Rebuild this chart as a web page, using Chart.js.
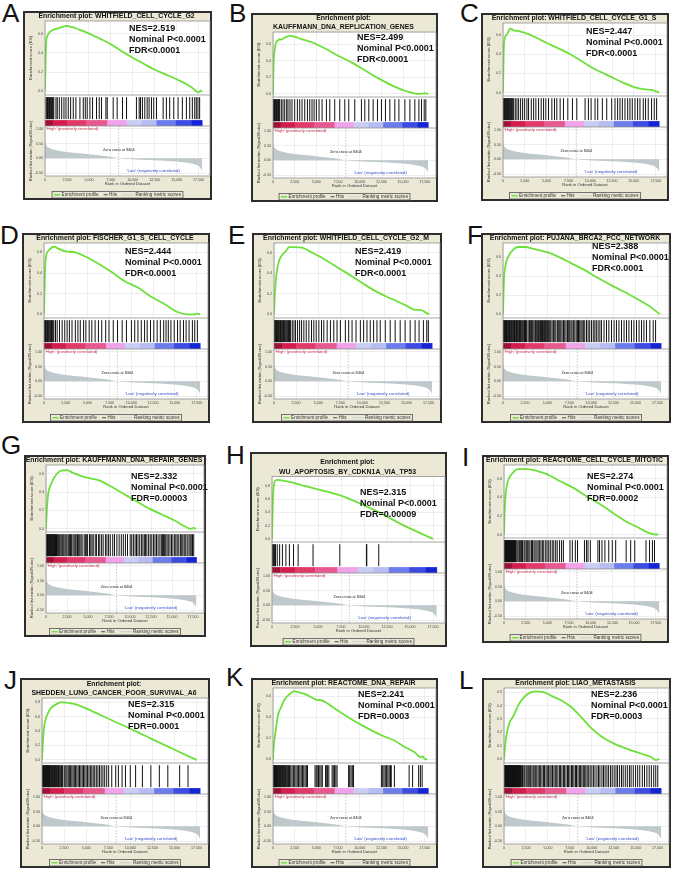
<!DOCTYPE html>
<html>
<head>
<meta charset="utf-8">
<title>GSEA enrichment plots</title>
<script src="https://cdn.jsdelivr.net/npm/chart.js@4.4.1/dist/chart.umd.min.js"></script>
<style>
  html, body { margin: 0; padding: 0; background: #fff; }
  body { position: relative; width: 674px; height: 874px; overflow: hidden; font-family: "Liberation Sans", Arial, sans-serif; }
  .letter { position: absolute; font-size: 26px; line-height: 26px; color: #111; }
  .frame { position: absolute; box-sizing: border-box; border: 2px solid #2d2d2d; background: #ebe9d6; }
  .frame canvas { position: absolute; left: -2px; top: -2px; }
</style>
</head>
<body>
<script>
const FONT = '"Liberation Sans", Arial, sans-serif';

// ── Values ──────────────────────────────────────────────────────────

const PANEL_LETTERS = ["A", "B", "C", "D", "E", "F", "G", "H", "I", "J", "K", "L"];
const PANEL_TITLES = [
  ["Enrichment plot: WHITFIELD_CELL_CYCLE_G2"],
  ["Enrichment plot:", "KAUFFMANN_DNA_REPLICATION_GENES"],
  ["Enrichment plot: WHITFIELD_CELL_CYCLE_G1_S"],
  ["Enrichment plot: FISCHER_G1_S_CELL_CYCLE"],
  ["Enrichment plot: WHITFIELD_CELL_CYCLE_G2_M"],
  ["Enrichment plot: PUJANA_BRCA2_PCC_NETWORK"],
  ["Enrichment plot: KAUFFMANN_DNA_REPAIR_GENES"],
  ["Enrichment plot:", "WU_APOPTOSIS_BY_CDKN1A_VIA_TP53"],
  ["Enrichment plot: REACTOME_CELL_CYCLE_MITOTIC"],
  ["Enrichment plot:", "SHEDDEN_LUNG_CANCER_POOR_SURVIVAL_A6"],
  ["Enrichment plot: REACTOME_DNA_REPAIR"],
  ["Enrichment plot: LIAO_METASTASIS"]
];
const NES = ["2.519", "2.499", "2.447", "2.444", "2.419", "2.388", "2.332", "2.315", "2.274", "2.315", "2.241", "2.236"];
const NOM_P = ["<0.0001", "<0.0001", "<0.0001", "<0.0001", "<0.0001", "<0.0001", "<0.0001", "<0.0001", "<0.0001", "<0.0001", "<0.0001", "<0.0001"];
const FDR = ["<0.0001", "<0.0001", "<0.0001", "<0.0001", "<0.0001", "<0.0001", "=0.00003", "=0.00009", "=0.0002", "=0.0001", "=0.0003", "=0.0003"];

// axis ticks
const X_TICKS = [0, 2500, 5000, 7500, 10000, 12500, 15000, 17500];
const METRIC_TICKS = [-0.5, -0.25, 0, 0.25, 0.5, 0.75, 1.0];
// upper limit of each enrichment-score axis
const ES_AXIS_MAX = [0.73, 0.745, 0.727, 0.69, 0.695, 0.747, 0.695, 0.94, 0.745, 0.857, 0.68, 0.53];

// running enrichment score: [rank, ES]
const ES_A = [[0,0],[50,0.25],[130,0.5],[250,0.57],[600,0.62],[1100,0.645],[1700,0.66],[2200,0.675],[2500,0.68],[2900,0.67],[3500,0.655],[4200,0.63],[4900,0.605],[5600,0.575],[6300,0.545],[7500,0.49],[8700,0.42],[10000,0.35],[11200,0.29],[12500,0.225],[13800,0.175],[15000,0.127],[16100,0.077],[16800,0.035],[17250,0.0],[17450,-0.01],[17750,0.008],[17900,0.0]];
const ES_B = [[0,0],[60,0.34],[190,0.53],[380,0.625],[600,0.645],[770,0.66],[1000,0.655],[1350,0.68],[1920,0.7],[2500,0.69],[3270,0.66],[4420,0.625],[5960,0.55],[7500,0.46],[9040,0.38],[10580,0.285],[12120,0.19],[13650,0.106],[15190,0.038],[16200,0.01],[16730,0.0],[17300,0.004],[17500,0.008],[17900,0.0]];
const ES_C = [[0,0],[80,0.43],[190,0.56],[460,0.61],[840,0.667],[1220,0.65],[1790,0.643],[2930,0.61],[4460,0.543],[5980,0.477],[7500,0.41],[9030,0.327],[10550,0.243],[12080,0.177],[13600,0.11],[15130,0.053],[16270,0.033],[17030,0.027],[17550,0.012],[17900,0.0]];
const ES_D = [[0,0],[110,0.41],[260,0.57],[570,0.62],[950,0.65],[1250,0.655],[1510,0.64],[2460,0.61],[3590,0.6],[4730,0.56],[6240,0.49],[7750,0.41],[9260,0.32],[10770,0.26],[12290,0.17],[13800,0.1],[15310,0.023],[16440,0.0],[17200,0.0],[17580,0.007],[17900,0.0]];
const ES_E = [[0,0],[110,0.22],[260,0.38],[570,0.52],[940,0.58],[1390,0.62],[1700,0.655],[2450,0.655],[3200,0.65],[4330,0.6],[5840,0.53],[7340,0.45],[8850,0.37],[10350,0.285],[11860,0.21],[13370,0.15],[14870,0.09],[16000,0.045],[16570,0.045],[17140,0.02],[17590,0.0]];
const ES_F = [[0,0],[110,0.36],[260,0.5],[570,0.6],[1130,0.675],[1700,0.705],[2460,0.705],[3590,0.683],[5100,0.648],[6240,0.605],[7750,0.534],[9260,0.463],[10770,0.38],[12660,0.285],[14180,0.214],[15690,0.135],[16820,0.071],[17770,0.0]];
const ES_G = [[0,0],[110,0.22],[260,0.38],[570,0.48],[1130,0.58],[1700,0.63],[2460,0.64],[3210,0.61],[4730,0.56],[6240,0.53],[7750,0.46],[9260,0.38],[10770,0.3],[12290,0.22],[13800,0.156],[15310,0.09],[16440,0.03],[17200,0.0],[17580,0.01],[17850,0.0]];
const ES_H = [[0,0],[100,0.6],[300,0.87],[570,0.89],[1500,0.87],[3000,0.82],[4340,0.77],[7560,0.65],[11340,0.42],[14360,0.2],[17500,0.0]];
const ES_I = [[0,0],[75,0.25],[190,0.43],[450,0.57],[1020,0.66],[1580,0.7],[2710,0.7],[3850,0.68],[4980,0.645],[6490,0.57],[8000,0.5],[9500,0.41],[11010,0.33],[12520,0.233],[14030,0.143],[15540,0.072],[16670,0.018],[17420,0.0],[17800,0.0]];
const ES_J = [[0,0],[150,0.35],[340,0.53],[650,0.64],[1030,0.72],[1600,0.77],[2180,0.8],[2950,0.79],[4100,0.76],[5240,0.7],[7540,0.57],[10220,0.42],[12520,0.285],[15200,0.13],[17500,0.0]];
const ES_K = [[0,0],[80,0.12],[270,0.25],[570,0.42],[950,0.5],[1330,0.57],[1900,0.62],[2460,0.65],[2840,0.64],[3790,0.62],[4920,0.57],[5690,0.56],[7200,0.48],[8700,0.4],[10600,0.31],[12500,0.23],[14000,0.18],[15150,0.12],[16300,0.07],[17050,0.02],[17250,0.03],[17500,0.005],[17800,0.0]];
const ES_L = [[0,0],[110,0.09],[260,0.17],[560,0.26],[1130,0.33],[1700,0.41],[2260,0.46],[2820,0.49],[3580,0.505],[4520,0.5],[5460,0.47],[6590,0.435],[7720,0.385],[8850,0.31],[9980,0.23],[11100,0.17],[12600,0.115],[14100,0.077],[15600,0.044],[16760,0.018],[17300,-0.005],[17700,0.005]];

// ranks of the gene-set members (hits)
const HITS_A = [110,200,280,360,440,520,600,680,760,840,920,1000,1250,1400,1630,1900,2160,2390,2650,2920,3220,3520,3980,4360,4590,4810,5120,5420,5870,6180,6440,6940,7090,7770,8220,8830,9290,10420,10730,10880,11100,11370,11640,11860,12130,12390,12700,13460,13830,14210,14670,15160,15650,16110,16490,16790,17060,17240,17430,17620];
const HITS_B = [60,115,180,250,320,400,480,560,640,700,770,960,1150,1350,1580,1730,1960,2190,2500,2810,3080,3350,3660,3970,4240,4500,4740,5000,5310,5660,6160,6550,7120,7700,8280,8740,9430,10200,10590,11050,11550,12050,12510,12970,13480,14050,14520,15210,15790,16360,16830,17130,17440,17630];
const HITS_C = [40,100,160,230,300,370,440,510,580,650,720,800,880,960,1040,1120,1220,1410,1600,1790,2020,2250,2480,2740,2930,3240,3510,3770,4080,4380,4650,4910,5220,5600,5900,6170,6550,6930,7430,7960,8460,9410,9790,10100,10550,10860,11390,11890,12460,12840,13140,13410,13680,13980,14290,14550,14820,15130,15430,15700,16080,16340,16650,17030,17340,17610];
const HITS_D = [40,100,170,250,330,410,500,590,680,770,860,950,1040,1130,1320,1510,1780,2080,2380,2650,2910,3210,3590,3890,4160,4540,4800,5180,5480,5860,6240,6620,7070,7450,7940,8430,8960,9450,10020,10400,10770,11150,11530,11830,12210,12590,12970,13340,13720,13990,14250,14550,14930,15310,15610,15990,16290,16630,17010,17280,17580];
const HITS_E = [40,90,150,210,280,350,420,500,580,660,740,820,900,990,1080,1170,1260,1350,1450,1550,1650,1760,1880,2070,2260,2440,2670,2900,3120,3380,3650,3950,4250,4510,4780,5080,5380,5640,6020,6390,6770,7140,7520,8080,8460,8840,9290,9780,10150,10530,10900,11280,11660,12030,12600,13160,13720,14290,14850,15420,15980,16430,16920,17300,17480];
const HITS_F = [30,85,150,205,270,325,400,465,540,605,680,745,820,895,980,1050,1140,1215,1300,1375,1460,1535,1620,1705,1790,1875,1970,2055,2150,2240,2350,2440,2550,2650,2830,2960,3020,3140,3210,3310,3400,3530,3670,3770,3890,4030,4160,4240,4350,4470,4570,4690,4800,4910,5030,5170,5290,5410,5560,5710,5860,5990,6160,6310,6430,6550,6690,6850,6990,7140,7300,7440,7560,7700,7820,7970,8130,8290,8430,8550,8690,8830,8960,9100,9260,9460,9640,9820,10020,10220,10400,10570,10770,10970,11150,11440,11720,11990,12290,12580,12850,13130,13420,13710,13990,14260,14550,14830,15120,15410,15690,15960,16250,16630,17010,17280];
const HITS_G = [20,70,120,170,220,270,330,390,450,510,570,630,690,750,810,870,940,1010,1080,1130,1250,1350,1460,1560,1650,1780,1900,2000,2120,2260,2380,2500,2650,2780,2910,3050,3210,3350,3480,3590,3750,3890,4020,4160,4300,4540,4680,4800,4950,5180,5330,5480,5620,5860,6000,6240,6400,6620,6800,7070,7250,7450,7650,7940,8150,8430,8700,8960,9200,9450,9700,10020,10200,10400,10600,10770,10950,11150,11350,11530,11700,11830,12000,12210,12400,12590,12800,12970,13150,13340,13550,13720,13850,13990,14120,14250,14400,14550,14750,14930,15100,15310,15450,15610,15800,15990,16150,16290,16450,16630,16800,17010,17150,17280,17430,17580];
const HITS_H = [30,100,180,260,380,570,830,1130,1510,1890,2340,2840,4460,7370,10260,10300,11600];
const HITS_I = [15,60,110,160,205,255,300,350,400,445,495,540,590,640,690,735,785,830,880,930,980,1030,1090,1150,1210,1270,1330,1390,1510,1630,1770,1880,2010,2140,2310,2420,2570,2690,2860,2990,3160,3290,3460,3590,3790,3940,4110,4270,4460,4590,4810,4970,5160,5340,5560,5740,5960,6140,6410,6640,6850,7610,7880,8230,8480,9280,9510,9690,9960,10830,11020,11300,11640,12080,12490,12880,14090,14610,15080,16380,16790,17120,17360];
const HITS_J = [20,70,120,170,220,270,320,380,440,500,560,620,680,740,800,860,920,990,1060,1130,1200,1270,1340,1410,1480,1550,1630,1710,1790,1870,1950,2040,2130,2220,2300,2370,2570,2700,2830,2970,3100,3240,3380,3520,3660,3800,3950,4100,4250,4400,4550,4700,4850,5000,5160,5320,5480,5640,5800,5970,6150,6330,6510,6700,6900,7100,7330,7550,7900,8350,8650,9070,9450,10000,10600,11370,12330,13290,14250,15590,16540];
const HITS_K = [20,70,120,170,230,290,350,410,470,530,600,670,740,810,880,950,1030,1110,1190,1270,1350,1430,1520,1610,1700,1800,1900,2050,2200,2350,2500,2650,2800,2950,3100,3250,3400,3550,3700,3850,3980,4850,4980,5100,5250,5400,5550,5690,6060,6200,6300,6440,6820,6950,7100,7250,7390,8720,8850,9000,9150,9290,12500,12650,12800,12950,13100,13250,13400,13550,13640,14000,15700,16100,16800,17000,17200];
const HITS_L = [15,55,95,140,180,225,270,310,350,400,445,490,530,575,620,665,710,750,800,845,890,935,980,1030,1075,1120,1170,1215,1260,1310,1360,1405,1450,1500,1550,1600,1650,1700,1760,1820,1880,2010,2110,2260,2370,2520,2640,2770,2930,3040,3190,3330,3440,3610,3740,3890,4060,4180,4330,4510,4620,4790,4930,5080,5240,5370,5530,5690,5840,5960,6140,6310,6430,6600,6770,6880,7060,7230,7360,7510,7690,7820,7970,8140,8260,8430,8590,8730,8880,9040,9190,9330,9480,9650,9820,10010,10190,10370,10590,10770,10930,11160,11340,11520,11730,11920,12140,12330,12550,12760,12940,13170,13390,13580,13820,14050,14290,14480,14730,14990,15230,15470,15760,16010,16280,16540,16790,17060,17290,17520];

// ranked list metric (Signal2Noise), shared by every panel
const METRIC_RANKS  = [0, 50, 200, 500, 1000, 1600, 2500, 3500, 5000, 6500, 7600, 8404, 9500, 11000, 12500, 14000, 15000, 16000, 16800, 17300, 17650, 17850, 17900];
const METRIC_SCORES = [0.64, 0.52, 0.42, 0.35, 0.30, 0.26, 0.22, 0.18, 0.14, 0.09, 0.05, 0.0, -0.02, -0.045, -0.065, -0.09, -0.11, -0.14, -0.18, -0.23, -0.30, -0.40, -0.45];
const ZERO_CROSS = 8404;
const LOW_LABEL_RANK = 9300;

// colour band under the hits (rank edges and colours)
const BAND_EDGES  = [0, 900, 2500, 4700, 7100, 9300, 11000, 12700, 14900, 16700, 17900];
const BAND_COLORS = ["#9e1035", "#d41d4d", "#e2396b", "#e85a8f", "#f0a2ea", "#c9cdf4", "#b5bdf2", "#6c7cec", "#3c4ce2", "#1224d4"];

const X_MAX = 18800;

// ── Layout (outer frame box, letters, statistics text) ──────────────

const FRAMES = [
  [23, 11, 189, 189], [251, 13, 187, 189], [481, 13, 188, 188],
  [22, 233, 188, 190], [252, 233, 190, 190], [481, 233, 190, 190],
  [24, 455, 182, 182], [250, 452, 197, 195], [482, 455, 187, 188],
  [20, 678, 190, 190], [251, 678, 187, 190], [482, 678, 189, 190]
];
const LETTER_POS = [[2,0],[229,0],[460,0],[0,222],[228,222],[467,222],[1,432],[226,442],[462,444],[4,667],[226,664],[459,667]];
const NES_POS = [[106,18],[106,25],[105,19],[103,19],[103,19],[111,14],[107,22],[110,41],[105,22],[108,27],[107,17],[109,17]];
const TITLE_PAD_TOP = [1, 0, 1, 1, 1, 1, 1, 5.5, 1, 1, 1, 1];
const OVERHANG = 8;   // canvas reaches past the frame so long stats text is not cut

const ES_SERIES = [ES_A, ES_B, ES_C, ES_D, ES_E, ES_F, ES_G, ES_H, ES_I, ES_J, ES_K, ES_L];
const HITS_SERIES = [HITS_A, HITS_B, HITS_C, HITS_D, HITS_E, HITS_F, HITS_G, HITS_H, HITS_I, HITS_J, HITS_K, HITS_L];

const GREEN = "#6ee03a";
const METRIC_FILL = "#bfc8cb";
const GRID = "#e3e3e3";
const HIT_LO = 0.22, HIT_HI = 0.93, BAND_TOP = 0.19;

// ── Drawing helpers ─────────────────────────────────────────────────

/// Extra drawing: plot background, colour band, labels, stats, legend.
const gseaPlugin = {
  id: "gsea",
  beforeDraw(chart) {
    const { ctx, chartArea: a } = chart;
    ctx.save();
    ctx.fillStyle = "#fff";
    ctx.fillRect(a.left, a.top, a.right - a.left, a.bottom - a.top);
    ctx.restore();
  },
  beforeDatasetsDraw(chart) {
    const { ctx, chartArea: a, scales } = chart;
    const x = scales.x, yh = scales.yh;
    ctx.save();
    ctx.fillStyle = "#fff";
    ctx.fillRect(a.left, yh.top, a.right - a.left, yh.bottom - yh.top);
    const bTop = yh.getPixelForValue(BAND_TOP), bBot = yh.getPixelForValue(0);
    for (let k = 0; k < BAND_COLORS.length; k++) {
      const x0 = x.getPixelForValue(BAND_EDGES[k]);
      const x1 = x.getPixelForValue(BAND_EDGES[k + 1]);
      ctx.fillStyle = BAND_COLORS[k];
      ctx.fillRect(x0, bTop, x1 - x0 + 0.4, bBot - bTop);
    }
    ctx.restore();
  },
  afterDraw(chart, args, o) {
    const { ctx, chartArea: a, scales } = chart;
    const { x, yes, yh, ym } = scales;
    const i = o.panel;
    ctx.save();

    // plot outlines
    ctx.strokeStyle = "#8f8f8f";
    ctx.lineWidth = 0.8;
    ctx.strokeRect(a.left, a.top, a.right - a.left, a.bottom - a.top);
    ctx.beginPath();
    ctx.moveTo(a.left, yes.bottom); ctx.lineTo(a.right, yes.bottom);
    ctx.moveTo(a.left, yh.bottom); ctx.lineTo(a.right, yh.bottom);
    ctx.stroke();

    // zero crossing
    const zx = x.getPixelForValue(ZERO_CROSS);
    ctx.setLineDash([1.5, 1.5]);
    ctx.strokeStyle = "#a0a0a0";
    ctx.lineWidth = 0.6;
    ctx.beginPath();
    ctx.moveTo(zx, ym.top); ctx.lineTo(zx, ym.bottom);
    ctx.stroke();
    ctx.setLineDash([]);

    ctx.font = "4.3px " + FONT;
    ctx.textAlign = "left";
    ctx.textBaseline = "top";
    ctx.fillStyle = "#c8324e";
    ctx.fillText("'High' (positively correlated)", a.left + 1, yh.bottom + 0.8);
    ctx.textBaseline = "middle";
    ctx.fillStyle = "#3048c8";
    ctx.fillText("'Low' (negatively correlated)", x.getPixelForValue(LOW_LABEL_RANK), ym.getPixelForValue(-0.44));
    ctx.font = "3.8px " + FONT;
    ctx.textAlign = "center";
    ctx.fillStyle = "#222";
    ctx.fillText("Zero cross at " + ZERO_CROSS, zx, ym.getPixelForValue(0.3));

    // statistics
    const [nx, ny] = NES_POS[i];
    ctx.font = "bold 9px " + FONT;
    ctx.textAlign = "left";
    ctx.fillStyle = "#111";
    ctx.fillText("NES=" + NES[i], nx, ny);
    ctx.fillText("Nominal P" + NOM_P[i], nx, ny + 11);
    ctx.fillText("FDR" + FDR[i], nx, ny + 22);

    // legend
    const items = [
      { label: "Enrichment profile", color: GREEN, w: 6, lw: 1.5 },
      { label: "Hits", color: "#444", w: 4, lw: 1 },
      { label: "Ranking metric scores", color: "#c9cfd1", w: 12, lw: 1 }
    ];
    ctx.font = "4.6px " + FONT;
    let total = 4;
    items.forEach((it, k) => {
      it.tw = ctx.measureText(it.label).width;
      total += it.w + 1.5 + it.tw + (k < items.length - 1 ? 5 : 0);
    });
    const bh = 6.5;
    const by = chart.height - 2 - bh;
    let lx = (chart.width - OVERHANG) / 2 - total / 2;
    ctx.strokeStyle = "#555";
    ctx.lineWidth = 0.8;
    ctx.strokeRect(lx, by, total, bh);
    const cy = by + bh / 2;
    lx += 2;
    ctx.textAlign = "left";
    ctx.textBaseline = "middle";
    items.forEach(it => {
      ctx.strokeStyle = it.color;
      ctx.lineWidth = it.lw;
      ctx.beginPath();
      ctx.moveTo(lx, cy); ctx.lineTo(lx + it.w, cy);
      ctx.stroke();
      lx += it.w + 1.5;
      ctx.fillStyle = "#333";
      ctx.fillText(it.label, lx, cy + 0.2);
      lx += it.tw + 5;
    });
    ctx.restore();
  }
};

/// Build one enrichment panel (frame, letter, chart).
function buildPanel(i) {
  const [fx, fy, fw, fh] = FRAMES[i];

  const letter = document.createElement("div");
  letter.className = "letter";
  letter.style.left = LETTER_POS[i][0] + "px";
  letter.style.top = LETTER_POS[i][1] + "px";
  letter.textContent = PANEL_LETTERS[i];
  document.body.appendChild(letter);

  const frame = document.createElement("div");
  frame.className = "frame";
  frame.style.cssText = `left:${fx}px;top:${fy}px;width:${fw}px;height:${fh}px;`;
  document.body.appendChild(frame);

  const cw = fw + OVERHANG;
  const canvas = document.createElement("canvas");
  canvas.width = cw;
  canvas.height = fh;
  canvas.style.width = cw + "px";
  canvas.style.height = fh + "px";
  frame.appendChild(canvas);

  const twoLines = PANEL_TITLES[i].length > 1;
  const titleH = twoLines ? 19 + TITLE_PAD_TOP[i] : 10;
  const chartH = fh - titleH - 24;
  const esWeight = chartH - 31 - 50;

  const esPts = ES_SERIES[i].map(([r, v]) => ({ x: r, y: v }));
  const hitPts = [];
  HITS_SERIES[i].forEach(h => {
    hitPts.push({ x: h, y: HIT_LO }, { x: h, y: HIT_HI }, { x: h, y: null });
  });
  const metricPts = METRIC_RANKS.map((r, k) => ({ x: r, y: METRIC_SCORES[k] }));

  const tickFont = { family: FONT, size: 3.6 };
  const yWidth = s => { s.width = 22; };
  const esMin = -ES_AXIS_MAX[i] * 0.05;

  new Chart(canvas, {
    type: "line",
    data: {
      datasets: [
        { label: "Enrichment profile", data: esPts, yAxisID: "yes", borderColor: GREEN,
          borderWidth: 1.8, pointRadius: 0, cubicInterpolationMode: "monotone" },
        { label: "Hits", data: hitPts, yAxisID: "yh", borderColor: "#111",
          borderWidth: 1, pointRadius: 0, spanGaps: false, borderCapStyle: "butt" },
        { label: "Ranking metric scores", data: metricPts, yAxisID: "ym",
          borderColor: "rgba(0,0,0,0)", borderWidth: 0, backgroundColor: METRIC_FILL,
          fill: "origin", pointRadius: 0, cubicInterpolationMode: "monotone" }
      ]
    },
    options: {
      responsive: false,
      animation: false,
      events: [],
      layout: { padding: { left: 0, right: 2 + OVERHANG, top: 0, bottom: 10 } },
      plugins: {
        legend: { display: false },
        tooltip: { enabled: false },
        title: {
          display: true,
          text: PANEL_TITLES[i],
          color: "#111",
          font: { family: FONT, size: 6.9, weight: "bold", lineHeight: twoLines ? 1.38 : 1.1 },
          padding: twoLines ? { top: TITLE_PAD_TOP[i], bottom: 0 } : { top: 1, bottom: 1.4 }
        },
        gsea: { panel: i }
      },
      scales: {
        x: {
          type: "linear", position: "bottom", min: 0, max: X_MAX,
          afterBuildTicks: s => { s.ticks = X_TICKS.map(v => ({ value: v })); },
          ticks: { autoSkip: false, maxRotation: 0, font: tickFont, color: "#444", padding: 2,
                   callback: v => v.toLocaleString("en-US") },
          grid: { color: GRID, lineWidth: 0.6, drawTicks: false },
          border: { display: false },
          title: { display: true, text: "Rank in Ordered Dataset", color: "#333",
                   font: { family: FONT, size: 4.1 }, padding: { top: 0, bottom: 3.5 } },
          afterFit: s => { s.height = 14; }
        },
        ym: {
          type: "linear", position: "left", stack: "gsea", stackWeight: 50,
          min: -0.6, max: 1.1,
          afterBuildTicks: s => { s.ticks = METRIC_TICKS.map(v => ({ value: v })); },
          ticks: { font: tickFont, color: "#444", padding: 2, callback: v => v.toFixed(2) },
          grid: { color: GRID, lineWidth: 0.6, drawTicks: false },
          border: { display: false },
          title: { display: true, text: "Ranked list metric (Signal2Noise)", color: "#333",
                   font: { family: FONT, size: 4.1 }, padding: { top: 5.5, bottom: 0 } },
          afterFit: yWidth
        },
        yh: {
          type: "linear", position: "left", stack: "gsea", stackWeight: 31,
          min: 0, max: 1,
          ticks: { display: false },
          grid: { display: false },
          border: { display: false },
          afterFit: yWidth
        },
        yes: {
          type: "linear", position: "left", stack: "gsea", stackWeight: esWeight,
          min: esMin, max: ES_AXIS_MAX[i],
          ticks: { stepSize: 0.1, includeBounds: false, font: tickFont, color: "#444", padding: 2,
                   callback: v => v.toFixed(1) },
          grid: { color: GRID, lineWidth: 0.6, drawTicks: false },
          border: { display: false },
          title: { display: true, text: "Enrichment score (ES)", color: "#333",
                   font: { family: FONT, size: 4.4 }, padding: { top: 5.5, bottom: 0 } },
          afterFit: yWidth
        }
      }
    },
    plugins: [gseaPlugin]
  });
}

for (let i = 0; i < FRAMES.length; i++) buildPanel(i);
</script>
</body>
</html>
